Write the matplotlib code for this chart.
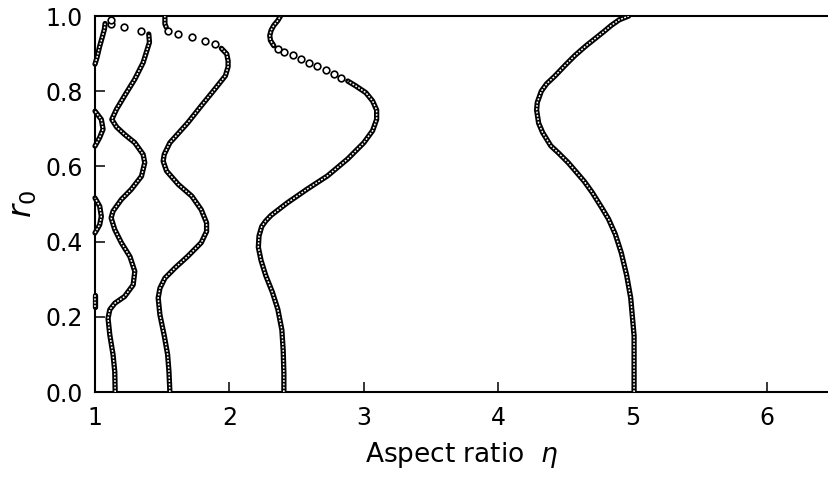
import matplotlib
matplotlib.use("Agg")
import matplotlib.pyplot as plt

# curves: eta (x) against r0 (y)
# "dense" parts are chains of touching circles, "dots" are the sparse stretches

a_eta = [5.01, 5.01, 5.01, 5.01, 5.0, 4.985, 4.955, 4.915, 4.87, 4.82, 4.77, 4.70, 4.64, 4.52,
         4.45, 4.39, 4.33, 4.30, 4.285, 4.29, 4.32, 4.36, 4.42, 4.50, 4.57, 4.65, 4.72, 4.79,
         4.84, 4.90, 4.97]
a_r0 = [0.0, 0.05, 0.10, 0.15, 0.19, 0.25, 0.31, 0.37, 0.42, 0.46, 0.49, 0.53, 0.56, 0.61,
        0.635, 0.655, 0.69, 0.715, 0.75, 0.77, 0.80, 0.82, 0.84, 0.87, 0.895, 0.92, 0.94, 0.96,
        0.975, 0.99, 1.0]

b_eta = [2.405, 2.405, 2.40, 2.39, 2.36, 2.32, 2.27, 2.235, 2.215, 2.22, 2.24, 2.27, 2.31,
         2.43, 2.58, 2.73, 2.88, 3.0, 3.065, 3.095, 3.095, 3.065, 3.015, 2.94, 2.88]
b_r0 = [0.0, 0.05, 0.11, 0.165, 0.22, 0.265, 0.31, 0.35, 0.385, 0.415, 0.44, 0.455, 0.47,
        0.503, 0.54, 0.575, 0.62, 0.663, 0.695, 0.725, 0.75, 0.774, 0.796, 0.814, 0.827]
b_dot_eta = [2.83, 2.78, 2.72, 2.655, 2.59, 2.53, 2.47, 2.405, 2.36]
b_dot_r0 = [0.836, 0.847, 0.857, 0.867, 0.876, 0.885, 0.896, 0.905, 0.912]
b_top_eta = [2.33, 2.305, 2.30, 2.31, 2.33, 2.36, 2.38]
b_top_r0 = [0.921, 0.935, 0.948, 0.962, 0.975, 0.988, 1.0]

c_eta = [1.557, 1.55, 1.54, 1.515, 1.483, 1.47, 1.483, 1.52, 1.595, 1.69, 1.79, 1.83, 1.83,
         1.79, 1.72, 1.62, 1.532, 1.507, 1.515, 1.557, 1.60, 1.65, 1.69, 1.79, 1.89, 1.97,
         1.99, 1.99, 1.98, 1.94]
c_r0 = [0.0, 0.055, 0.10, 0.15, 0.205, 0.25, 0.276, 0.303, 0.33, 0.361, 0.397, 0.427, 0.45,
        0.485, 0.521, 0.552, 0.588, 0.614, 0.632, 0.663, 0.68, 0.70, 0.716, 0.761, 0.805, 0.841,
        0.865, 0.881, 0.899, 0.914]
c_dot_eta = [1.89, 1.82, 1.72, 1.62, 1.545]
c_dot_r0 = [0.925, 0.934, 0.943, 0.952, 0.961]
c_top_eta = [1.53, 1.52, 1.52, 1.52]
c_top_r0 = [0.970, 0.979, 0.988, 1.0]

d_eta = [1.15, 1.147, 1.134, 1.11, 1.097, 1.11, 1.147, 1.22, 1.284, 1.296, 1.26, 1.196, 1.147,
         1.12, 1.134, 1.196, 1.27, 1.346, 1.37, 1.358, 1.296, 1.22, 1.16, 1.125, 1.16, 1.22,
         1.296, 1.358, 1.405, 1.40]
d_r0 = [0.0, 0.054, 0.10, 0.152, 0.196, 0.219, 0.236, 0.254, 0.285, 0.321, 0.36, 0.397, 0.432,
        0.463, 0.481, 0.512, 0.539, 0.574, 0.61, 0.632, 0.663, 0.685, 0.705, 0.725, 0.752, 0.788,
        0.832, 0.876, 0.93, 0.952]
d_dot_eta = [1.34, 1.216, 1.12, 1.12]
d_dot_r0 = [0.961, 0.970, 0.980, 0.990]

# small lobes hugging the eta = 1 axis
e_lobes = [
    ([1.0, 1.0], [0.226, 0.258]),
    ([1.0, 1.035, 1.047, 1.035, 1.0], [0.423, 0.445, 0.467, 0.494, 0.516]),
    ([1.0, 1.035, 1.06, 1.047, 1.0], [0.654, 0.677, 0.699, 0.725, 0.747]),
    ([1.0, 1.015, 1.035, 1.055, 1.07, 1.075], [0.872, 0.89, 0.92, 0.945, 0.965, 0.98]),
]

x_ticks = [1, 2, 3, 4, 5, 6]
y_ticks = [0.0, 0.2, 0.4, 0.6, 0.8, 1.0]
y_tick_labels = ["0.0", "0.2", "0.4", "0.6", "0.8", "1.0"]


def chain(ax, x, y, clip=True):
    # dark tube with a broken white core, reads like a string of small open circles
    ax.plot(x, y, color="black", lw=3.8, solid_capstyle="round", clip_on=clip, zorder=3)
    ax.plot(x, y, color="white", lw=1.1, ls=(0, (1.2, 1.0)), clip_on=clip, zorder=4)


def dots(ax, x, y):
    ax.plot(x, y, ls="none", marker="o", ms=4.8, mfc="white", mec="black", mew=1.2, zorder=4)


fig = plt.figure(figsize=(8.29, 4.78), dpi=100)
ax = fig.add_axes([0.1146, 0.1799, 0.8854, 0.7866])

chain(ax, a_eta, a_r0)
chain(ax, b_eta, b_r0)
chain(ax, b_top_eta, b_top_r0)
dots(ax, b_dot_eta, b_dot_r0)
chain(ax, c_eta, c_r0)
chain(ax, c_top_eta, c_top_r0)
dots(ax, c_dot_eta, c_dot_r0)
chain(ax, d_eta, d_r0)
dots(ax, d_dot_eta, d_dot_r0)
for ex, ey in e_lobes:
    chain(ax, ex, ey, clip=False)

ax.set_xlim(1, 6.46)
ax.set_ylim(0, 1)
ax.set_xticks(x_ticks)
ax.set_yticks(y_ticks)
ax.set_yticklabels(y_tick_labels)

ax.spines["right"].set_visible(False)
for s in ["left", "bottom", "top"]:
    ax.spines[s].set_linewidth(1.5)

ax.tick_params(axis="both", direction="in", length=7, width=1.1, labelsize=17)
ax.tick_params(axis="x", pad=10)
ax.tick_params(axis="y", pad=9)

ax.set_xlabel(r"Aspect ratio  $\eta$", fontsize=19, labelpad=7)
ax.set_ylabel(r"$r_0$", fontsize=23, labelpad=4)

fig.savefig("out.png", dpi=100)
